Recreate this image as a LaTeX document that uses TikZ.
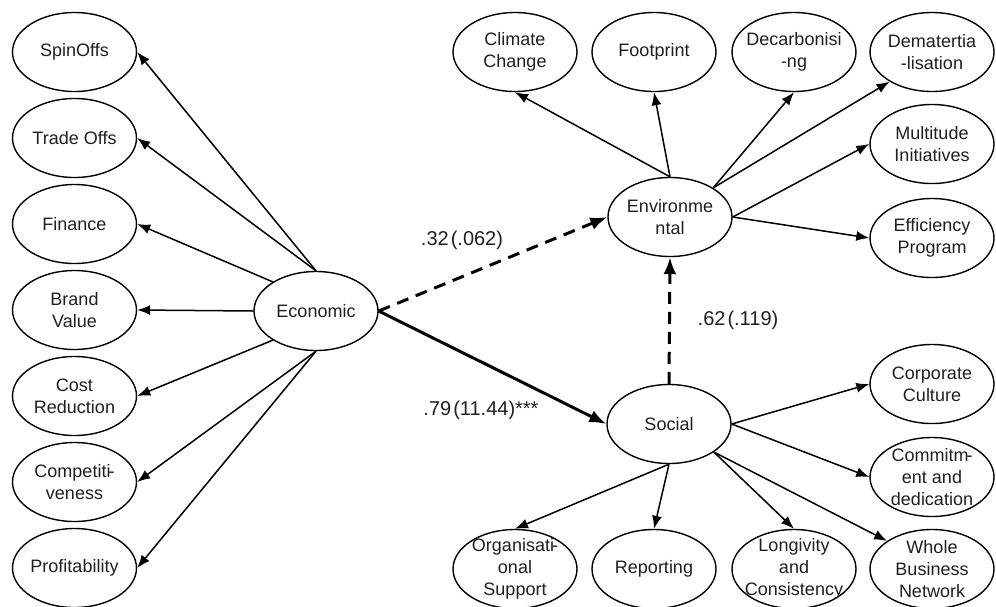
\documentclass[tikz,border=0pt]{standalone}
\usepackage{fontspec}
\setmainfont{Liberation Sans}
\usetikzlibrary{arrows.meta,shapes.geometric}
\begin{document}
\begin{tikzpicture}[x=1pt,y=-1pt,
  oval/.style={draw, ellipse, line width=1.4pt, minimum width=124pt, minimum height=79pt, inner sep=0pt},
  txt/.style={font=\fontsize{18}{22}\selectfont, align=center, text=black!88, inner sep=0pt},
  link/.style={line width=1.5pt, -{Latex[length=13pt,width=10pt]}},
  strong/.style={line width=3pt, -{Latex[length=17pt,width=13pt]}},
  weak/.style={strong, dash pattern=on 12pt off 8pt},
  coef/.style={font=\fontsize{20}{24}\selectfont, text=black!88, inner sep=0pt}
]
\useasboundingbox (0,0) rectangle (996,606);
\clip (0,0) rectangle (996,606);

% left column
\node[oval, label={[txt]center:{SpinOffs}}] (spin) at (74.5,52) {};
\node[oval, label={[txt]center:{Trade Offs}}] (trade) at (74.5,138) {};
\node[oval, label={[txt]center:{Finance}}] (fin) at (74.5,224) {};
\node[oval, label={[txt]center:{Brand\\Value}}] (brand) at (74.5,310) {};
\node[oval, label={[txt]center:{Cost\\Reduction}}] (cost) at (74.5,396) {};
\node[oval, label={[txt]center:{Competiti\kern-2pt-\\veness}}] (comp) at (74.5,482) {};
\node[oval, label={[txt]center:{Profitability}}] (prof) at (74.5,568) {};

% centre
\node[oval, label={[txt]center:{Economic}}] (eco) at (316,311) {};
\node[oval, label={[txt]center:{Environme\\ntal}}] (env) at (670,217) {};
\node[oval, label={[txt]center:{Social}}] (soc) at (669,424) {};

% top row
\node[oval, label={[txt]center:{Climate\\Change}}] (clim) at (515,52) {};
\node[oval, label={[txt]center:{Footprint}}] (foot) at (654,52) {};
\node[oval, label={[txt]center:{Decarbonisi\\-ng}}] (decarb) at (794,52) {};
\node[oval, label={[txt]center:{Dematertia\\-lisation}}] (demat) at (932,52) {};

% right column
\node[oval, label={[txt]center:{Multitude\\Initiatives}}] (multi) at (932,144) {};
\node[oval, label={[txt]center:{Efficiency\\Program}}] (eff) at (932,238) {};
\node[oval, label={[txt]center:{Corporate\\Culture}}] (corp) at (932,384) {};
\node[oval, label={[txt]center:{Commitm\kern-2pt-\\ent and\\dedication}}] (comm) at (932,477) {};

% bottom row
\node[oval, label={[txt]center:{Organisati\kern-2pt-\\onal\\Support}}] (org) at (515,569) {};
\node[oval, label={[txt]center:{Reporting}}] (rep) at (654,569) {};
\node[oval, label={[txt]center:{Longivity\\and\\Consistency}}] (long) at (794,569) {};
\node[oval, label={[txt]center:{Whole\\Business\\Network}}] (whole) at (932,569) {};

% economic indicators
\draw[link] (eco.north) -- (spin.east);
\draw[link] (eco.north) -- (trade.east);
\draw[link] (eco.146) -- (fin.east);
\draw[link] (eco.west) -- (brand.east);
\draw[link] (eco.214) -- (cost.east);
\draw[link] (eco.south) -- (comp.east);
\draw[link] (eco.south) -- (prof.east);

% environmental indicators
\draw[link] (env.north) -- (clim.south);
\draw[link] (env.north) -- (foot.south);
\draw[link] (env.34) -- (decarb.south);
\draw[link] (env.34) -- (demat.215);
\draw[link] (env.east) -- (multi.west);
\draw[link] (env.east) -- (eff.west);

% social indicators
\draw[link] (soc.east) -- (corp.west);
\draw[link] (soc.east) -- (comm.west);
\draw[link] (soc.328) -- (whole.148);
\draw[link] (soc.328) -- (long.north);
\draw[link] (soc.south) -- (rep.north);
\draw[link] (soc.south) -- (org.north);

% structural paths
\draw[weak] (eco.east) -- (env.west);
\draw[strong] (eco.east) -- (soc.west);
\draw[weak] (soc.north) -- (env.south);

\node[coef] (c32) at (462,240) {.32\kern2pt(.062)};
\node[coef] (c62) at (738,320) {.62\kern2pt(.119)};
\node[coef] (c79) at (481,410) {.79\kern2pt(11.44)***};
\end{tikzpicture}
\end{document}
